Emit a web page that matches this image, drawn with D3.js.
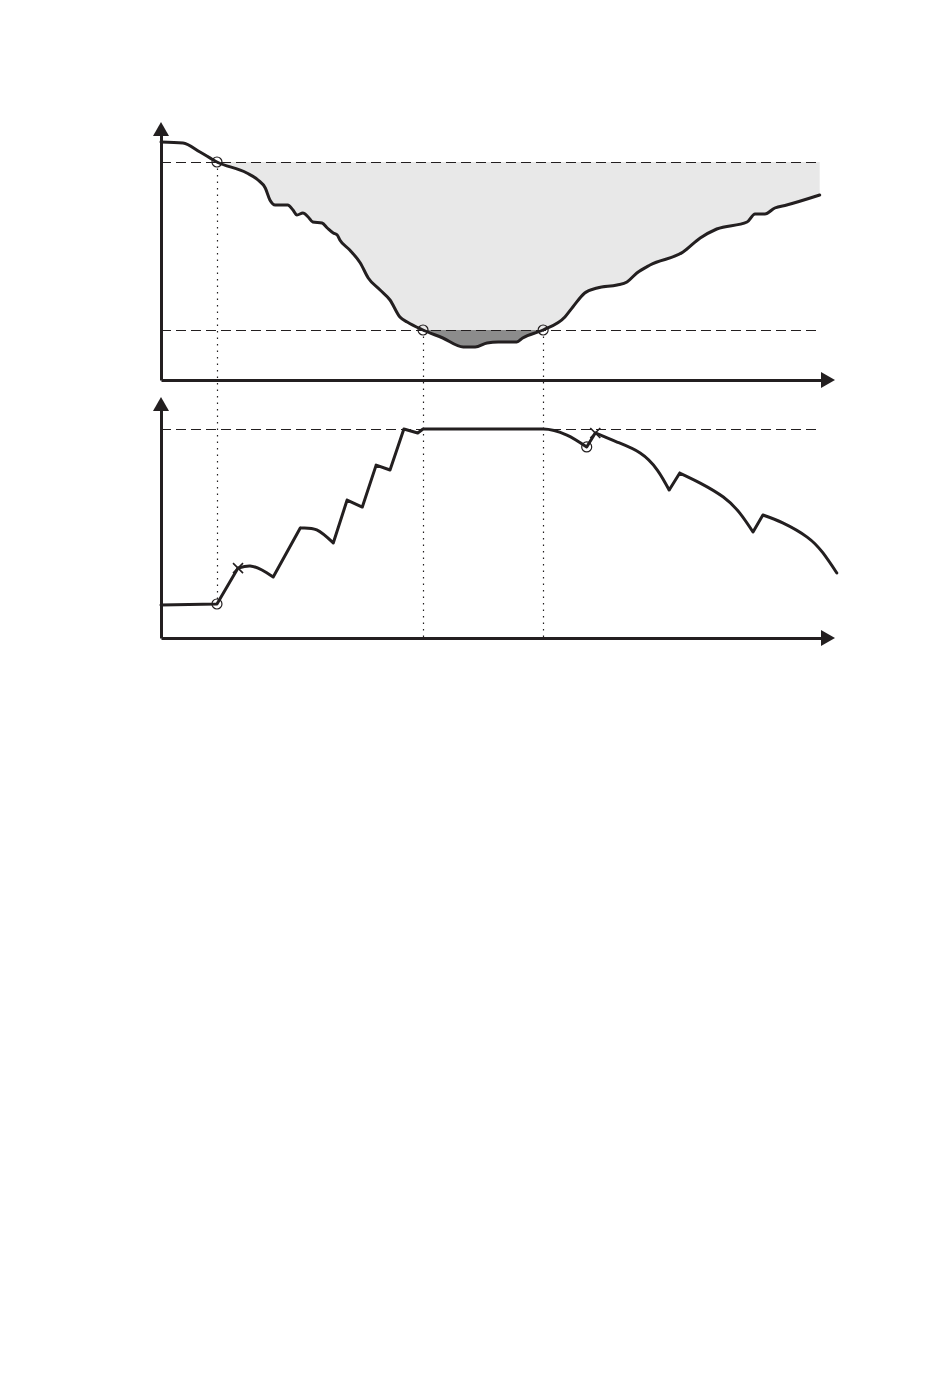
<!DOCTYPE html>
<html>
<head>
    <title>Threshold panels</title>
    <script src="https://d3js.org/d3.v7.min.js"></script>
    <style>
        body { margin: 0; background: #fff; }
    </style>
</head>
<body>
    <div id="chart"></div>
   <script>
// top panel curve (time, level)
const tTop = [0, 3.33, 5.91, 8.48, 13.0, 14.7, 15.8, 16.5, 17.3, 19.2, 20.0, 20.6, 21.5, 22.3, 23.0, 24.4, 25.2, 26.1, 26.7, 27.1, 28.6, 30.2, 31.4, 33.2, 34.7, 36.2, 37.3, 39.7, 42.7, 45.8, 47.6, 49.4, 51.1, 53.9, 54.8, 57.9, 61.2, 62.4, 64.2, 66.1, 69.1, 70.6, 72.1, 74.1, 79.1, 81.7, 84.2, 88.8, 90.0, 91.5, 93.0, 94.8, 99.8];
const vTop = [95.2, 94.8, 91.2, 87.2, 82.8, 80, 76.8, 72, 70, 70, 68, 66, 66.8, 65.2, 63.2, 62.8, 60.8, 58.8, 58, 56, 52, 46.8, 40.8, 36, 32, 25.2, 23.2, 20, 16.8, 13.2, 13.2, 14.8, 15.2, 15.2, 16.8, 20, 25.2, 29.2, 34.8, 36.8, 38, 39.2, 42.8, 46, 51.2, 56.8, 60.4, 63.2, 66.4, 66.4, 68.8, 70, 74];
const topHigh = 87.2, topLow = 20;

// bottom panel curve
const tBot = [0, 8.48, 11.67, 13.5, 15.3, 17.0, 21.1, 23.6, 26.1, 28.2, 30.5, 32.6, 34.7, 36.8, 38.9, 39.7, 57.9, 61.5, 64.5, 65.8, 69.1, 72.6, 75.2, 77.0, 78.6, 81.7, 85.2, 87.7, 89.7, 91.2, 94.2, 97.9, 100.3, 102.4];
const vBot = [14.2, 14.6, 30.0, 30.9, 29.2, 26.2, 47.2, 46.4, 40.8, 59.2, 56.2, 74.2, 72.1, 89.7, 88.0, 89.7, 89.7, 87.1, 82.0, 88.0, 84.1, 79.4, 72.1, 63.5, 70.8, 66.5, 60.5, 53.6, 45.5, 52.8, 49.4, 43.3, 36.5, 27.9];
const botKinks = [1, 2, 5, 6, 8, 9, 10, 11, 12, 13, 14, 15, 18, 19, 23, 24, 28, 29];
const botLevel = 89.7;

// markers
const crossT = [8.48, 39.7, 57.9];
const botCircleT = [8.48, 64.5], botCircleV = [14.6, 82.0];
const botCrossT = [11.67, 65.8], botCrossV = [30.0, 88.0];

const ink = "#231f20";
const svg = d3.select("#chart").append("svg")
    .attr("width", 950).attr("height", 1378);

const x = d3.scaleLinear().domain([0, 100]).range([161, 821]);
const yTop = d3.scaleLinear().domain([0, 100]).range([380, 130]);
const yBot = d3.scaleLinear().domain([0, 100]).range([638, 405]);

const topData = tTop.map((t, i) => ({ t, v: vTop[i] }));
const botData = tBot.map((t, i) => ({ t, v: vBot[i] }));

// clip regions
const defs = svg.append("defs");
defs.append("clipPath").attr("id", "belowHigh").append("rect")
    .attr("x", x(0)).attr("y", yTop(topHigh)).attr("width", x(100) - x(0)).attr("height", yTop(0) - yTop(topHigh));
defs.append("clipPath").attr("id", "belowLow").append("rect")
    .attr("x", x(0)).attr("y", yTop(topLow)).attr("width", x(100) - x(0)).attr("height", yTop(0) - yTop(topLow));

const curve = d3.curveMonotoneX;

svg.append("path").datum(topData)
    .attr("clip-path", "url(#belowHigh)")
    .attr("fill", "#e8e8e8")
    .attr("d", d3.area().curve(curve).x(d => x(d.t)).y0(yTop(topHigh)).y1(d => yTop(d.v)));

svg.append("path").datum(topData)
    .attr("clip-path", "url(#belowLow)")
    .attr("fill", "#8c8c8c")
    .attr("d", d3.area().curve(curve).x(d => x(d.t)).y0(yTop(topLow)).y1(d => yTop(d.v)));

// dashed levels
const dash = [[yTop, topHigh], [yTop, topLow], [yBot, botLevel]];
svg.selectAll(".lvl").data(dash).enter().append("line")
    .attr("x1", x(0)).attr("x2", x(100))
    .attr("y1", d => Math.round(d[0](d[1])) + 0.5).attr("y2", d => Math.round(d[0](d[1])) + 0.5)
    .attr("stroke", ink).attr("stroke-width", 1.2).attr("stroke-dasharray", "10,5");

// dotted verticals
const vert = [
    { t: crossT[0], y1: yTop(topHigh), y2: yBot(botCircleV[0]) },
    { t: crossT[1], y1: yTop(topLow), y2: yBot(0) },
    { t: crossT[2], y1: yTop(topLow), y2: yBot(0) }
];
svg.selectAll(".vert").data(vert).enter().append("line")
    .attr("x1", d => Math.round(x(d.t)) + 0.5).attr("x2", d => Math.round(x(d.t)) + 0.5)
    .attr("y1", d => d.y1).attr("y2", d => d.y2)
    .attr("stroke", ink).attr("stroke-width", 1.2).attr("stroke-dasharray", "1.5,5");

// axes
function drawAxes(y) {
    svg.append("g").attr("transform", `translate(0,${y(0)})`)
        .call(d3.axisBottom(x).tickValues([]).tickSizeOuter(0))
        .select(".domain").attr("stroke", ink).attr("stroke-width", 3);
    svg.append("g").attr("transform", `translate(${x(0)},0)`)
        .call(d3.axisLeft(y).tickValues([]).tickSizeOuter(0))
        .select(".domain").attr("stroke", ink).attr("stroke-width", 3);
    const ax = x(100), ay = y(0), tx = x(0), ty = y(100);
    svg.append("path").attr("fill", ink)
        .attr("d", `M${ax},${ay - 8}L${ax + 14},${ay}L${ax},${ay + 8}Z`);
    svg.append("path").attr("fill", ink)
        .attr("d", `M${tx - 8},${ty + 6}L${tx},${ty - 8}L${tx + 8},${ty + 6}Z`);
}
drawAxes(yTop);
drawAxes(yBot);

// curves
svg.append("path").datum(topData)
    .attr("fill", "none").attr("stroke", ink).attr("stroke-width", 3)
    .attr("stroke-linejoin", "round").attr("stroke-linecap", "round")
    .attr("d", d3.line().curve(curve).x(d => x(d.t)).y(d => yTop(d.v)));

// bottom curve drawn piece by piece between kinks
const cuts = [0, ...botKinks, botData.length - 1];
const pieces = d3.pairs(cuts).map(([a, b]) => botData.slice(a, b + 1));
const botLine = d3.line().curve(d3.curveNatural).x(d => x(d.t)).y(d => yBot(d.v));
const flatLine = d3.line().curve(curve).x(d => x(d.t)).y(d => yBot(d.v));
svg.append("path")
    .attr("fill", "none").attr("stroke", ink).attr("stroke-width", 3)
    .attr("stroke-linejoin", "round").attr("stroke-linecap", "round")
    .attr("d", pieces.map(p => (p[0].v === p[1].v ? flatLine : botLine)(p)).join(""));

// circles
const circ = [
    ...crossT.map((t, i) => ({ cx: x(t), cy: yTop(i === 0 ? topHigh : topLow) })),
    ...botCircleT.map((t, i) => ({ cx: x(t), cy: yBot(botCircleV[i]) }))
];
svg.selectAll(".mk").data(circ).enter().append("circle")
    .attr("cx", d => d.cx).attr("cy", d => d.cy).attr("r", 5)
    .attr("fill", "none").attr("stroke", ink).attr("stroke-width", 1.2);

// crosses
botCrossT.forEach((t, i) => {
    const cx = x(t), cy = yBot(botCrossV[i]);
    svg.append("path").attr("stroke", ink).attr("stroke-width", 1.6).attr("fill", "none")
        .attr("d", `M${cx - 5},${cy - 5}L${cx + 5},${cy + 5}M${cx - 5},${cy + 5}L${cx + 5},${cy - 5}`);
});
   </script>
</body>
</html>
